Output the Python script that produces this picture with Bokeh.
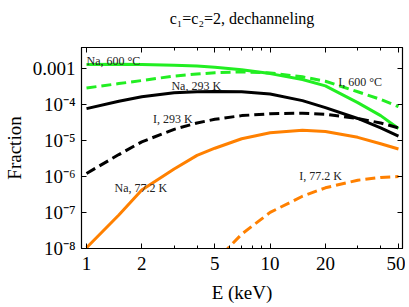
from bokeh.plotting import figure
from bokeh.models import (Range1d, LogAxis, FixedTicker, CustomJSTickFormatter,
                          ColumnDataSource)
from bokeh.core.properties import value
from bokeh.embed import file_html
from bokeh.resources import INLINE

# ---- data ----
energy = [1, 1.5, 2, 3, 4, 5, 7, 10, 15, 20, 30, 40, 50]
na_600C = [1.25e-3, 1.27e-3, 1.25e-3, 1.2e-3, 1.13e-3, 1.05e-3, 9.0e-4, 7.0e-4,
           4.8e-4, 3.2e-4, 1.1e-4, 4.8e-5, 2.1e-5]
i_600C = [2.8e-4, 3.7e-4, 4.5e-4, 6.0e-4, 6.8e-4, 7.4e-4, 7.8e-4, 7.3e-4,
          5.7e-4, 4.3e-4, 2.2e-4, 1.35e-4, 8.5e-5]
na_293K = [7.5e-5, 1.2e-4, 1.6e-4, 2.05e-4, 2.2e-4, 2.25e-4, 2.2e-4, 1.9e-4,
           1.25e-4, 8.0e-5, 4.0e-5, 2.2e-5, 1.3e-5]
i_293K = [1.2e-6, 4.0e-6, 9.0e-6, 2.0e-5, 3.0e-5, 3.8e-5, 4.8e-5, 5.4e-5,
          5.6e-5, 5.2e-5, 4.0e-5, 3.0e-5, 2.2e-5]
na_77K = [1.05e-8, 8.5e-8, 4.2e-7, 1.6e-6, 3.8e-6, 6.0e-6, 1.1e-5, 1.6e-5,
          1.9e-5, 1.75e-5, 1.2e-5, 8.0e-6, 5.7e-6]
energy_i77 = [5.5, 7, 10, 15, 20, 30, 40, 50]
i_77K = [7e-9, 2.5e-8, 1.0e-7, 2.8e-7, 4.8e-7, 7.8e-7, 9.3e-7, 9.8e-7]

x_ticks = [1, 2, 5, 10, 20, 50]
x_minor = [3, 4, 6, 7, 8, 9, 30, 40]
y_ticks = [1e-8, 1e-7, 1e-6, 1e-5, 1e-4, 1e-3]

label_text = ["Na, 600 \u00b0C", "I, 600 \u00b0C", "Na, 293 K", "I, 293 K",
              "Na, 77.2 K", "I, 77.2 K"]
label_x = [1.0, 23.5, 2.9, 2.3, 1.42, 14.4]
label_y = [1.56e-3, 4.1e-4, 3.2e-4, 3.8e-5, 4.6e-7, 1.0e-6]

GREEN = "#22ee22"
ORANGE = "#ff8000"
SERIF = "Liberation Serif"

p = figure(frame_width=321, frame_height=201, x_axis_type="log", y_axis_type="log",
           x_range=Range1d(0.939, 52.6), y_range=Range1d(1e-8, 3.7e-3),
           output_backend="svg", toolbar_location=None,
           min_border_left=74, min_border_right=3, min_border_top=48,
           min_border_bottom=58)
p.styles = {"margin-top": "-14px"}
p.grid.visible = False
p.outline_line_color = "black"
p.outline_line_width = 1.2
p.background_fill_color = "white"
p.border_fill_color = "white"

p.title.text = "c\u2081=c\u2082=2, dechanneling"
p.title.align = "center"
p.title.text_font = SERIF
p.title.text_font_size = "16px"
p.title.text_font_style = "normal"
p.title.text_color = "black"
p.title.standoff = 42

sup_code = """
const e = Math.round(Math.log10(tick));
if (e === -3) return "0.001";
const m = {"-":"\\u207b","0":"\\u2070","1":"\\u00b9","2":"\\u00b2","3":"\\u00b3",
           "4":"\\u2074","5":"\\u2075","6":"\\u2076","7":"\\u2077","8":"\\u2078","9":"\\u2079"};
return "10" + String(e).split("").map(c => m[c]).join("");
"""
blank = CustomJSTickFormatter(code='return "";')


def style_axis(ax, labels=True):
    ax.axis_line_color = "black"
    ax.major_tick_in = 5
    ax.major_tick_out = 0
    ax.minor_tick_in = 3
    ax.minor_tick_out = 0
    ax.major_tick_line_color = "black"
    ax.minor_tick_line_color = "black"
    ax.major_label_text_font = SERIF
    ax.major_label_text_font_size = "19px"
    ax.major_label_text_color = "black"
    ax.axis_label_text_font = SERIF
    ax.axis_label_text_font_size = "19px"
    ax.axis_label_text_font_style = "normal"
    ax.axis_label_text_color = "black"
    if not labels:
        ax.major_label_standoff = 0


xb = p.xaxis[0]
xb.ticker = FixedTicker(ticks=x_ticks, minor_ticks=x_minor)
xb.formatter = CustomJSTickFormatter(code="return String(tick);")
xb.axis_label = "E (keV)"
style_axis(xb)
xb.major_label_standoff = 8
xb.axis_label_standoff = 9

yl = p.yaxis[0]
yl.ticker = FixedTicker(ticks=y_ticks, minor_ticks=[])
yl.formatter = CustomJSTickFormatter(code=sup_code)
yl.axis_label = "Fraction"
style_axis(yl)
yl.major_label_standoff = 6
yl.axis_label_standoff = 5

xt = LogAxis(ticker=FixedTicker(ticks=x_ticks, minor_ticks=x_minor), formatter=blank)
style_axis(xt, labels=False)
p.add_layout(xt, "above")
yr = LogAxis(ticker=FixedTicker(ticks=y_ticks, minor_ticks=[]), formatter=blank)
style_axis(yr, labels=False)
p.add_layout(yr, "right")

p.line(energy, na_600C, line_color=GREEN, line_width=3)
p.line(energy, i_600C, line_color=GREEN, line_width=3, line_dash="10 5")
p.line(energy, na_293K, line_color="black", line_width=3)
p.line(energy, i_293K, line_color="black", line_width=3, line_dash="10 5")
p.line(energy, na_77K, line_color=ORANGE, line_width=3)
p.line(energy_i77, i_77K, line_color=ORANGE, line_width=3, line_dash="10 5")

src = ColumnDataSource(dict(x=label_x, y=label_y, t=label_text))
p.text(x="x", y="y", text="t", source=src, text_font=value(SERIF),
       text_font_size="12px", text_color="#222222", text_align="left",
       text_baseline="middle")

open("out.html", "w").write(file_html(p, INLINE))
